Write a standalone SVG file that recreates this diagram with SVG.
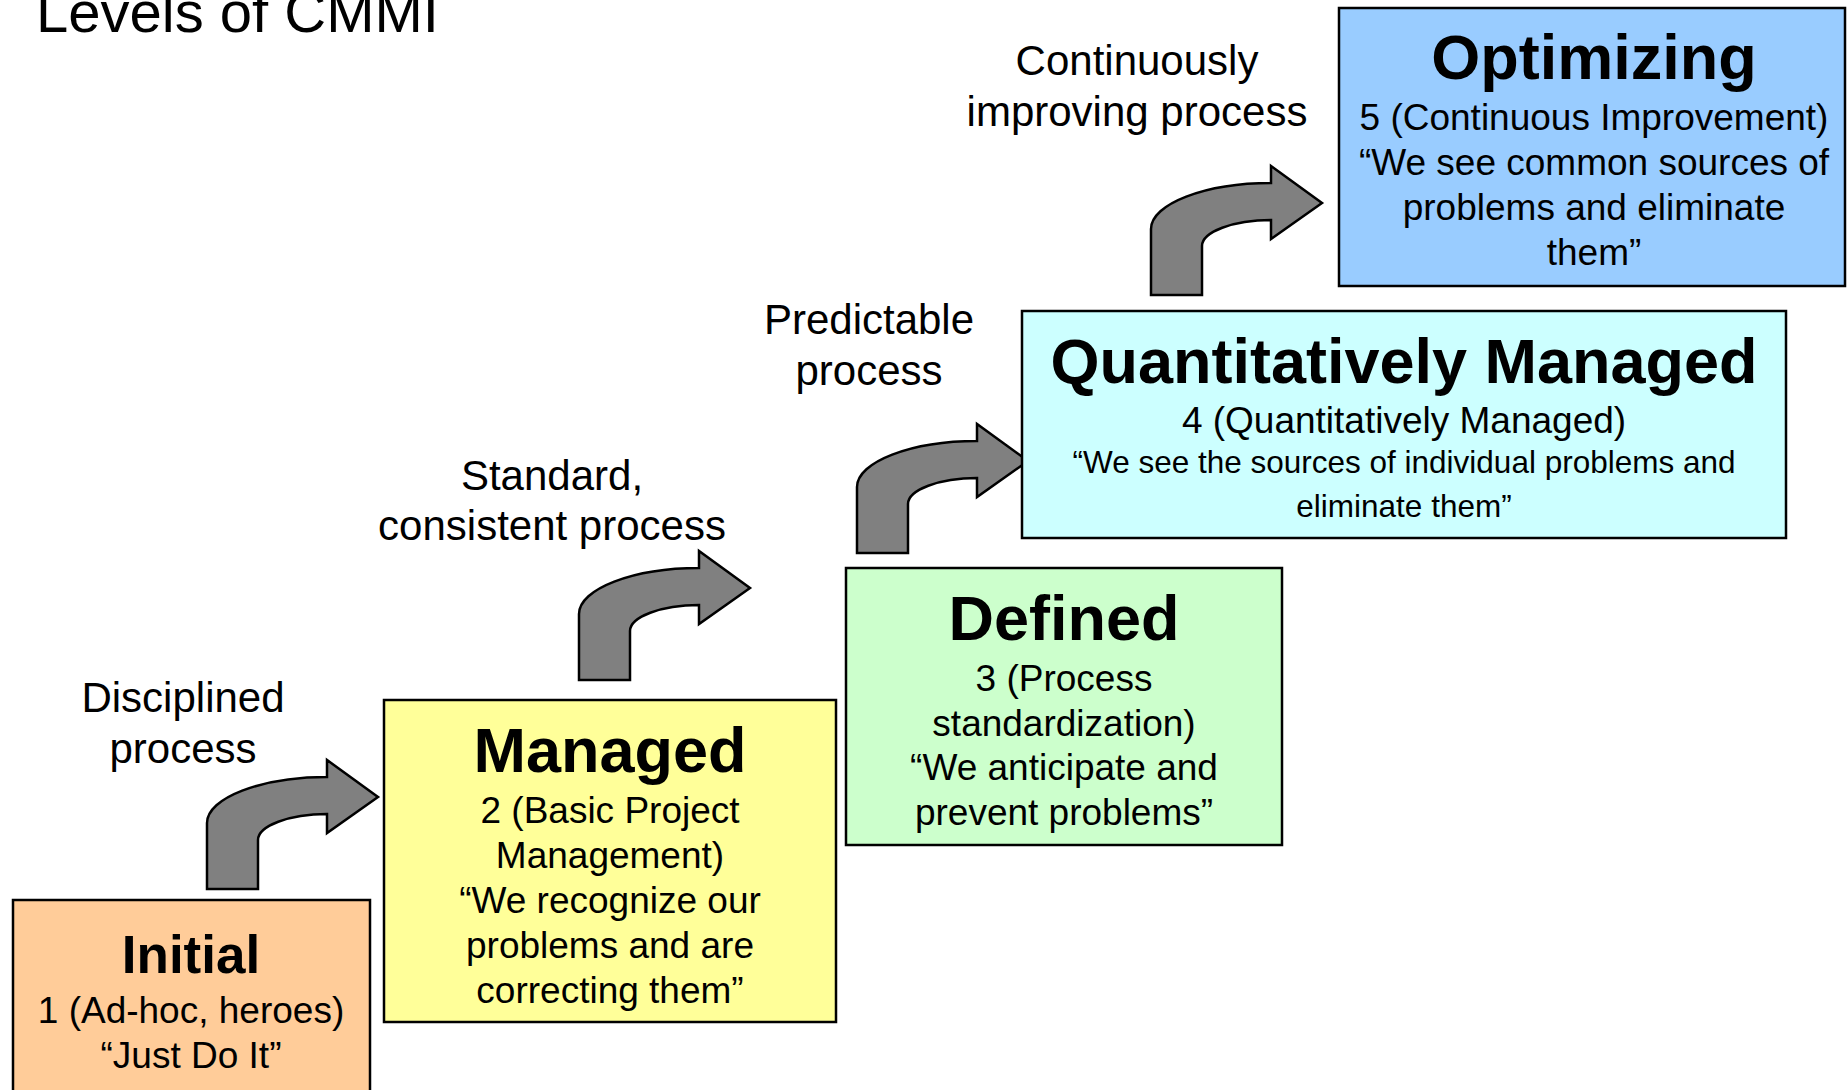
<svg xmlns="http://www.w3.org/2000/svg" width="1847" height="1090" viewBox="0 0 1847 1090">
<style>
text{font-family:"Liberation Sans",Arial,sans-serif;fill:#000;text-anchor:middle}
.box{stroke:#000;stroke-width:2.5}
.h{font-weight:bold;font-size:63px}
.b{font-size:37px}
.s{font-size:31.5px}
.lbl{font-size:42px}
.arrow{fill:#808080;stroke:#000;stroke-width:2.5;stroke-linejoin:miter}
</style>
<defs>
<path id="bentArrow" d="M207,889 L207,823 C207,798 261,777 327,777 L327,760 L378,797 L327,833 L327,814 C289,814 258,826 258,840 L258,889 Z"/>
</defs>
<rect width="1847" height="1090" fill="#fff"/>
<text x="36" y="32" style="font-size:58px;text-anchor:start">Levels of CMMI</text>

<g id="connectors">
<use href="#bentArrow" class="arrow"/>
<use href="#bentArrow" class="arrow" transform="translate(372,-209)"/>
<use href="#bentArrow" class="arrow" transform="translate(650,-336)"/>
<use href="#bentArrow" class="arrow" transform="translate(944,-594)"/>
</g>

<g id="labels">
<text class="lbl" x="183" y="712">Disciplined</text>
<text class="lbl" x="183" y="763">process</text>
<text class="lbl" x="552" y="490">Standard,</text>
<text class="lbl" x="552" y="540">consistent process</text>
<text class="lbl" x="869" y="334">Predictable</text>
<text class="lbl" x="869" y="385">process</text>
<text class="lbl" x="1137" y="75">Continuously</text>
<text class="lbl" x="1137" y="126">improving process</text>
</g>

<g id="initial">
<rect class="box" x="13" y="900" width="357" height="200" fill="#FFCC99"/>
<text x="191" y="973" style="font-weight:bold;font-size:53px">Initial</text>
<text class="b" x="191" y="1023">1 (Ad-hoc, heroes)</text>
<text class="b" x="191" y="1068">“Just Do It”</text>
</g>

<g id="managed">
<rect class="box" x="384" y="700" width="452" height="322" fill="#FFFF99"/>
<text class="h" x="610" y="772">Managed</text>
<text class="b" x="610" y="823">2 (Basic Project</text>
<text class="b" x="610" y="868">Management)</text>
<text class="b" x="610" y="913">“We recognize our</text>
<text class="b" x="610" y="958">problems and are</text>
<text class="b" x="610" y="1003">correcting them”</text>
</g>

<g id="defined">
<rect class="box" x="846" y="568" width="436" height="277" fill="#CCFFCC"/>
<text class="h" x="1064" y="640">Defined</text>
<text class="b" x="1064" y="691">3 (Process</text>
<text class="b" x="1064" y="736">standardization)</text>
<text class="b" x="1064" y="780">“We anticipate and</text>
<text class="b" x="1064" y="825">prevent problems”</text>
</g>

<g id="quantitatively-managed">
<rect class="box" x="1022" y="311" width="764" height="227" fill="#CCFFFF"/>
<text class="h" x="1404" y="383">Quantitatively Managed</text>
<text class="b" x="1404" y="433">4 (Quantitatively Managed)</text>
<text class="s" x="1404" y="473">“We see the sources of individual problems and</text>
<text class="s" x="1404" y="517">eliminate them”</text>
</g>

<g id="optimizing">
<rect class="box" x="1339" y="8" width="506" height="278" fill="#99CCFF"/>
<text class="h" x="1594" y="79">Optimizing</text>
<text class="b" x="1594" y="130">5 (Continuous Improvement)</text>
<text class="b" x="1594" y="175">“We see common sources of</text>
<text class="b" x="1594" y="220">problems and eliminate</text>
<text class="b" x="1594" y="265">them”</text>
</g>
</svg>
